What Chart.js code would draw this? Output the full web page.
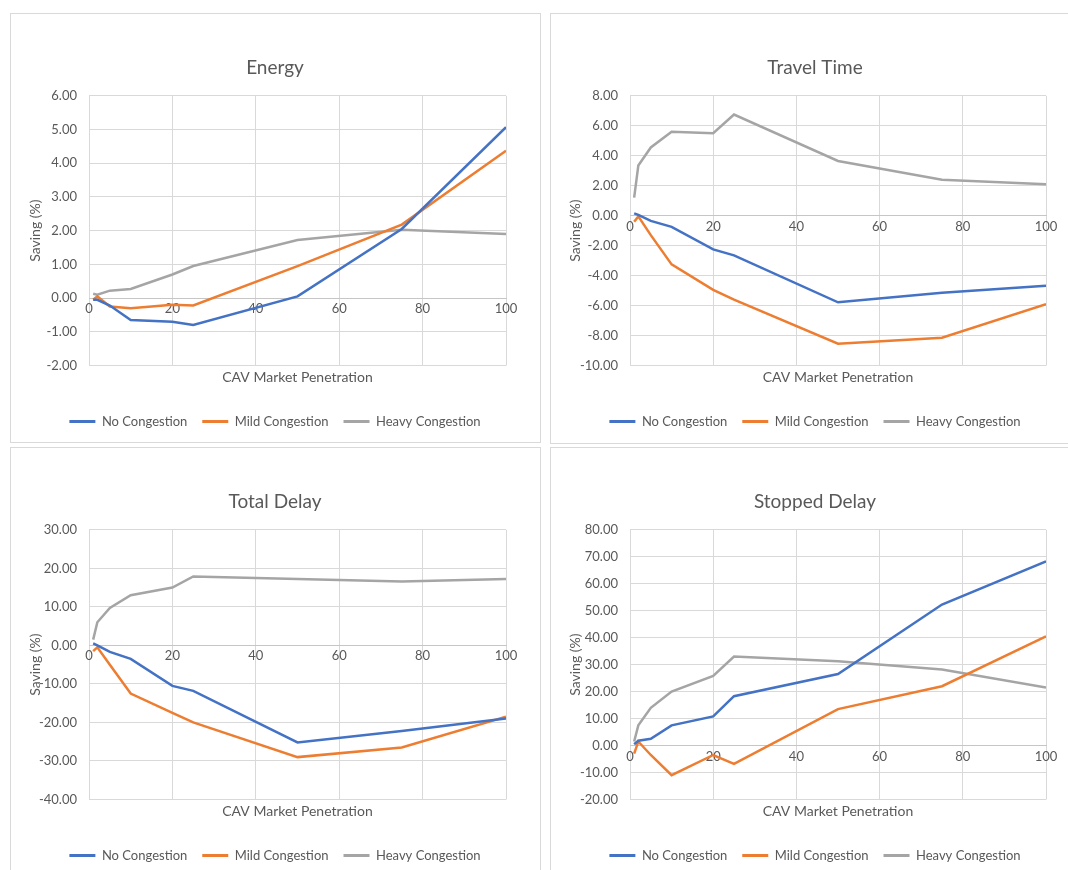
<!DOCTYPE html>
<html>
<head>
<meta charset="utf-8">
<script src="https://cdn.jsdelivr.net/npm/chart.js@4/dist/chart.umd.min.js"></script>
<style>
  body { margin: 0; background: #fff; width: 1068px; height: 870px; overflow: hidden; position: relative; }
  .box { position: absolute; border: 1px solid #d9d9d9; box-sizing: border-box; }
  .holder { position: absolute; width: 530px; height: 425px; }
</style>
</head>
<body>
<div class="box" style="left:10px;top:13px;width:531px;height:430px"></div>
<div class="box" style="left:550px;top:13px;width:540px;height:431px"></div>
<div class="box" style="left:10px;top:447px;width:531px;height:440px"></div>
<div class="box" style="left:550px;top:447px;width:540px;height:440px"></div>

<div class="holder" style="left:10px;top:13px"><canvas id="energy"></canvas></div>
<div class="holder" style="left:550px;top:13px"><canvas id="travel"></canvas></div>
<div class="holder" style="left:10px;top:447px"><canvas id="totalDelay"></canvas></div>
<div class="holder" style="left:550px;top:447px"><canvas id="stoppedDelay"></canvas></div>

<script>
const penetration = [1, 2, 5, 10, 20, 25, 50, 75, 100];
const seriesNames = ['No Congestion', 'Mild Congestion', 'Heavy Congestion'];
const seriesColors = ['#4472C4', '#ED7D31', '#A5A5A5'];

const energyNo = [-0.05, -0.05, -0.22, -0.65, -0.7, -0.8, 0.05, 2.05, 5.07];
const energyMild = [-0.05, 0.05, -0.25, -0.3, -0.2, -0.22, 0.95, 2.18, 4.37];
const energyHeavy = [0.13, 0.1, 0.22, 0.27, 0.7, 0.95, 1.72, 2.03, 1.9];

const travelNo = [0.15, 0.05, -0.35, -0.75, -2.25, -2.65, -5.78, -5.15, -4.68];
const travelMild = [-0.4, -0.05, -1.3, -3.25, -4.95, -5.6, -8.55, -8.15, -5.9];
const travelHeavy = [1.2, 3.35, 4.55, 5.6, 5.5, 6.75, 3.65, 2.4, 2.1];

const delayNo = [0.5, 0.0, -1.7, -3.5, -10.5, -11.8, -25.2, -22.2, -19.0];
const delayMild = [-1.5, -0.5, -5.0, -12.5, -17.5, -20.0, -29.0, -26.5, -18.5];
const delayHeavy = [1.5, 6.0, 9.7, 13.0, 15.0, 17.9, 17.2, 16.6, 17.2];

const stoppedNo = [0.5, 1.8, 2.5, 7.5, 10.8, 18.3, 26.5, 52.3, 68.3];
const stoppedMild = [-3.0, 1.5, -3.5, -11.0, -3.5, -6.8, 13.5, 22.0, 40.5];
const stoppedHeavy = [1.5, 7.5, 14.0, 20.0, 25.8, 33.0, 31.3, 28.2, 21.5];

Chart.defaults.font.family = 'Lato, "Open Sans", sans-serif';
Chart.defaults.color = '#595959';

const textGray = '#595959';
const gridGray = '#d9d9d9';

function makeChart(id, title, series, yMin, yMax, yStep, yWidth) {
  const datasets = series.map((vals, i) => ({
    label: seriesNames[i],
    data: penetration.map((x, j) => ({ x: x, y: vals[j] })),
    borderColor: seriesColors[i],
    backgroundColor: seriesColors[i],
    borderWidth: 2.5,
    pointRadius: 0,
    tension: 0,
    xAxisID: 'x',
    yAxisID: 'y'
  }));

  new Chart(document.getElementById(id), {
    type: 'line',
    data: { datasets: datasets },
    options: {
      responsive: true,
      maintainAspectRatio: false,
      animation: false,
      layout: { padding: 0 },
      plugins: {
        title: {
          display: true,
          text: title,
          color: textGray,
          font: { size: 19, weight: 'normal' },
          padding: { top: 43, bottom: 17 }
        },
        legend: {
          position: 'bottom',
          labels: {
            color: textGray,
            font: { size: 13 },
            boxWidth: 26,
            boxHeight: 3,
            padding: 15,
            generateLabels: (chart) => Chart.defaults.plugins.legend.labels.generateLabels(chart)
              .map(l => ({ ...l, lineWidth: 0 }))
          }
        },
        tooltip: { enabled: false }
      },
      scales: {
        x: {
          type: 'linear',
          position: { y: 0 },
          min: 0,
          max: 100,
          ticks: { stepSize: 20, color: textGray, font: { size: 13 }, padding: 3, maxRotation: 0 },
          grid: { color: gridGray, drawTicks: false },
          border: { color: '#c6c6c6', width: 1 }
        },
        xt: {
          type: 'linear',
          axis: 'x',
          position: 'bottom',
          min: 0,
          max: 100,
          ticks: { display: false },
          grid: { display: false, drawTicks: false },
          border: { display: false },
          title: {
            display: true,
            text: 'CAV Market Penetration',
            color: textGray,
            font: { size: 14 },
            padding: { top: 0, bottom: 14 }
          },
          afterFit: (scale) => { scale.height = 34.5; }
        },
        y: {
          min: yMin,
          max: yMax,
          ticks: {
            stepSize: yStep,
            color: textGray,
            font: { size: 13 },
            padding: 12,
            callback: (v) => v.toFixed(2)
          },
          grid: { color: gridGray, drawTicks: false },
          border: { display: false },
          title: {
            display: true,
            text: 'Saving (%)',
            color: textGray,
            font: { size: 14 },
            padding: { top: 17, bottom: 0 }
          },
          afterFit: (scale) => { scale.width = yWidth; }
        },
        yr: {
          type: 'linear',
          axis: 'y',
          position: 'right',
          min: yMin,
          max: yMax,
          ticks: { display: false },
          grid: { display: false, drawTicks: false },
          border: { display: false },
          afterFit: (scale) => { scale.width = 34; }
        }
      }
    }
  });
}

makeChart('energy', 'Energy', [energyNo, energyMild, energyHeavy], -2, 6, 1, 79);
makeChart('travel', 'Travel Time', [travelNo, travelMild, travelHeavy], -10, 8, 2, 80);
makeChart('totalDelay', 'Total Delay', [delayNo, delayMild, delayHeavy], -40, 30, 10, 79);
makeChart('stoppedDelay', 'Stopped Delay', [stoppedNo, stoppedMild, stoppedHeavy], -20, 80, 10, 80);
</script>
</body>
</html>
